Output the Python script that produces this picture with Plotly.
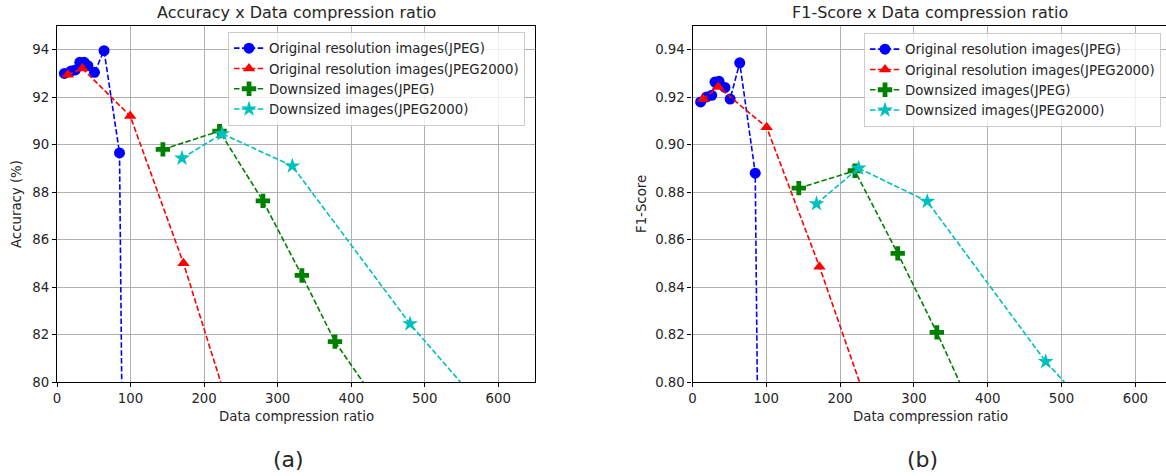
import plotly.graph_objects as go

# ---------------- data ----------------
series_names = [
    "Original resolution images(JPEG)",
    "Original resolution images(JPEG2000)",
    "Downsized images(JPEG)",
    "Downsized images(JPEG2000)",
]

# Accuracy (%) vs data compression ratio
acc_orig_jpeg_x = [10, 19, 25, 31, 37, 42, 51, 64, 85, 90]
acc_orig_jpeg_y = [93.0, 93.1, 93.15, 93.47, 93.47, 93.33, 93.05, 93.96, 89.65, 73.6]
acc_orig_j2k_x = [14.6, 34.5, 99.5, 172, 260]
acc_orig_j2k_y = [92.95, 93.21, 91.21, 85.0, 76.3]
acc_down_jpeg_x = [144, 221, 280, 333, 378, 460]
acc_down_jpeg_y = [89.8, 90.57, 87.63, 84.49, 81.7, 78.04]
acc_down_j2k_x = [170, 224.5, 320, 480, 600]
acc_down_j2k_y = [89.43, 90.46, 89.1, 82.45, 78.16]

# F1-Score vs data compression ratio
f1_orig_jpeg_x = [11, 19, 26, 30.5, 36, 44, 51, 64, 85, 90]
f1_orig_jpeg_y = [0.918, 0.9201, 0.9208, 0.9264, 0.9267, 0.9241, 0.9192, 0.9345, 0.888, 0.731]
f1_orig_j2k_x = [14.6, 34.9, 100.5, 172, 260]
f1_orig_j2k_y = [0.9192, 0.9243, 0.9073, 0.8486, 0.7697]
f1_down_jpeg_x = [144, 220, 278, 331, 378]
f1_down_jpeg_y = [0.8817, 0.889, 0.8542, 0.8209, 0.789]
f1_down_j2k_x = [168, 225, 318, 478.5, 600]
f1_down_j2k_y = [0.8751, 0.8901, 0.8761, 0.8086, 0.7673]

x_ticks = [0, 100, 200, 300, 400, 500, 600]
acc_ticks = [80, 82, 84, 86, 88, 90, 92, 94]
f1_ticks = [0.80, 0.82, 0.84, 0.86, 0.88, 0.90, 0.92, 0.94]

colors = ["#0000ff", "#ff0000", "#008000", "#00bfbf"]
symbols = ["circle", "triangle-up", "cross", "star"]
sizes = [11, 11, 12, 12]

FONT = "DejaVu Sans"
TXT = "#262626"
W, H = 1166, 476

fig = go.Figure()

acc_sets = [
    (acc_orig_jpeg_x, acc_orig_jpeg_y),
    (acc_orig_j2k_x, acc_orig_j2k_y),
    (acc_down_jpeg_x, acc_down_jpeg_y),
    (acc_down_j2k_x, acc_down_j2k_y),
]
f1_sets = [
    (f1_orig_jpeg_x, f1_orig_jpeg_y),
    (f1_orig_j2k_x, f1_orig_j2k_y),
    (f1_down_jpeg_x, f1_down_jpeg_y),
    (f1_down_j2k_x, f1_down_j2k_y),
]

for i, (xs, ys) in enumerate(acc_sets):
    fig.add_trace(go.Scatter(
        x=xs, y=ys, mode="lines+markers", name=series_names[i],
        line=dict(color=colors[i], width=1.6, dash="5.5px,2.4px"),
        marker=dict(symbol=symbols[i], size=sizes[i], color=colors[i], line=dict(width=0)),
        xaxis="x", yaxis="y", legend="legend", cliponaxis=True,
    ))
for i, (xs, ys) in enumerate(f1_sets):
    fig.add_trace(go.Scatter(
        x=xs, y=ys, mode="lines+markers", name=series_names[i],
        line=dict(color=colors[i], width=1.6, dash="5.5px,2.4px"),
        marker=dict(symbol=symbols[i], size=sizes[i], color=colors[i], line=dict(width=0)),
        xaxis="x2", yaxis="y2", legend="legend2", cliponaxis=True,
    ))

def px_x(p):
    return p / W

def px_y(p):
    return 1 - p / H

axis_common = dict(
    showgrid=True, gridcolor="#b0b0b0", gridwidth=0.8,
    showline=True, linecolor="black", linewidth=1.2,
    ticks="outside", ticklen=4, tickcolor="black", tickwidth=1,
    zeroline=False, automargin=False,
    tickfont=dict(family=FONT, size=13.3, color=TXT),
)

y_dom = [px_y(382), px_y(26)]

legend_common = dict(
    xanchor="left", yanchor="top",
    bgcolor="rgba(255,255,255,0.8)", bordercolor="#cccccc", borderwidth=1,
    font=dict(family=FONT, size=13.3, color=TXT),
    tracegroupgap=0, itemwidth=30,
)

fig.update_layout(
    width=W, height=H,
    margin=dict(l=0, r=0, t=0, b=0, autoexpand=False),
    paper_bgcolor="white", plot_bgcolor="white",
    font=dict(family=FONT, size=13.3, color=TXT),
    xaxis=dict(axis_common, domain=[px_x(57), px_x(535)], range=[0, 650],
               tickvals=x_ticks, mirror=True, anchor="y"),
    yaxis=dict(axis_common, domain=y_dom, range=[80, 95], tickvals=acc_ticks,
               mirror=True, anchor="x"),
    xaxis2=dict(axis_common, domain=[px_x(692.5), 1.0], range=[0, 641.5],
                tickvals=x_ticks, mirror=True, anchor="y2"),
    yaxis2=dict(axis_common, domain=y_dom, range=[0.80, 0.95], tickvals=f1_ticks,
                tickformat=".2f", mirror=False, anchor="x2"),
    legend=dict(legend_common, x=px_x(228), y=px_y(32)),
    legend2=dict(legend_common, x=px_x(864), y=px_y(33)),
    showlegend=True,
)

annots = [
    dict(text="Accuracy x Data compression ratio", x=px_x(296), y=px_y(12), size=16),
    dict(text="F1-Score x Data compression ratio", x=px_x(930), y=px_y(12), size=16),
    dict(text="Data compression ratio", x=px_x(296), y=px_y(416), size=13.3),
    dict(text="Data compression ratio", x=px_x(930), y=px_y(416), size=13.3),
    dict(text="(a)", x=px_x(288), y=px_y(459), size=22),
    dict(text="(b)", x=px_x(922), y=px_y(459), size=22),
]
for a in annots:
    fig.add_annotation(text=a["text"], x=a["x"], y=a["y"], xref="paper", yref="paper",
                       showarrow=False, xanchor="center", yanchor="middle",
                       font=dict(family=FONT, size=a["size"], color=TXT))

fig.add_annotation(text="Accuracy (%)", x=px_x(16), y=px_y(204), xref="paper", yref="paper",
                   showarrow=False, textangle=-90, xanchor="center", yanchor="middle",
                   font=dict(family=FONT, size=13.3, color=TXT))
fig.add_annotation(text="F1-Score", x=px_x(641), y=px_y(204), xref="paper", yref="paper",
                   showarrow=False, textangle=-90, xanchor="center", yanchor="middle",
                   font=dict(family=FONT, size=13.3, color=TXT))

# remove the default 8px page margin so the figure sits at the window's top-left
fig.write_html(
    "out.html",
    config={"displayModeBar": False},
    post_script="document.body.style.margin='0px';document.body.style.padding='0px';"
                "document.documentElement.style.overflow='hidden';",
)
